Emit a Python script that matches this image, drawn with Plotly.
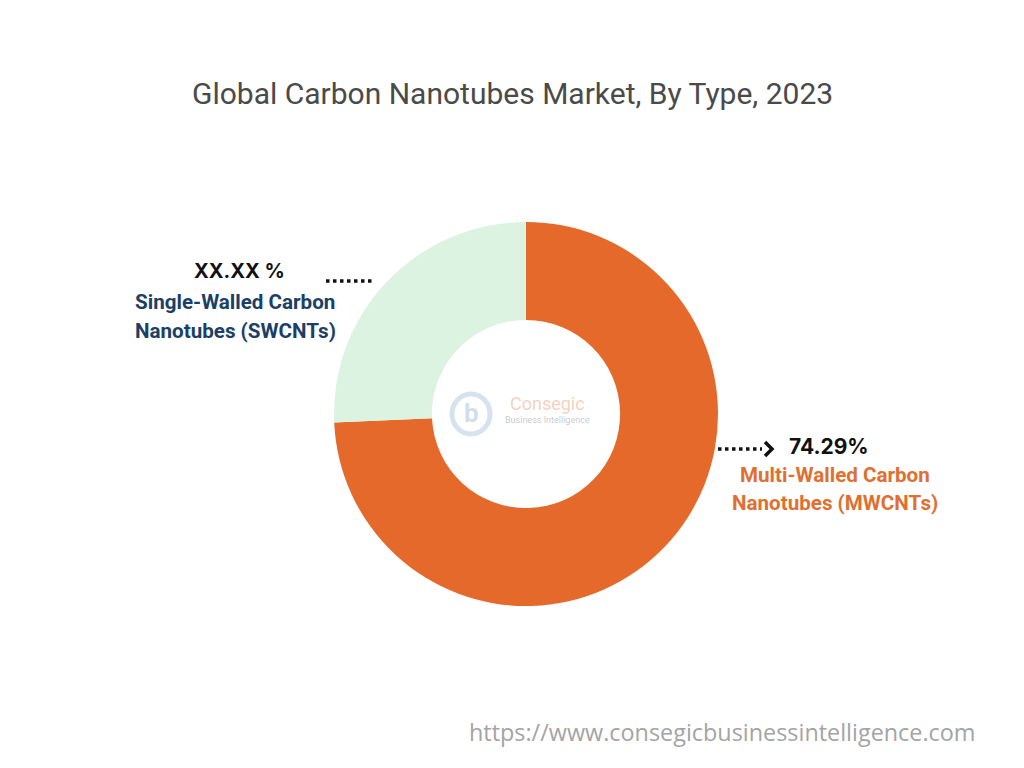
import plotly.graph_objects as go

# Data
categories = ["Multi-Walled Carbon Nanotubes (MWCNTs)", "Single-Walled Carbon Nanotubes (SWCNTs)"]
shares = [74.29, 25.71]
slice_colors = ["#E5692A", "#DDF3E1"]
value_labels = ["74.29%", "XX.XX %"]

W, H = 1024, 768
OFF = 8  # page offset of the figure in the screenshot
cx, cy, R = 526, 414, 192

def px(x):
    return (x - OFF) / W

def py(y):
    return 1 - (y - OFF) / H

fig = go.Figure()
fig.add_trace(go.Pie(
    labels=categories,
    values=shares,
    hole=0.49,
    sort=False,
    direction="clockwise",
    rotation=0,
    marker=dict(colors=slice_colors, line=dict(width=0)),
    textinfo="none",
    hoverinfo="label+percent",
    showlegend=False,
    domain=dict(x=[px(cx - R), px(cx + R)], y=[py(cy + R), py(cy - R)]),
))

annotations = []
shapes = []

def txt(x, y, s, size, color, family="Roboto", anchor="center"):
    annotations.append(dict(
        x=px(x), y=py(y), xref="paper", yref="paper", xanchor=anchor, yanchor="middle",
        text=s, showarrow=False, font=dict(family=family, size=size, color=color)))

# Title
txt(512, 93, "Global Carbon Nanotubes Market, By Type, 2023", 30, "#4A4A4A")

# Left label (SWCNTs)
txt(239, 271, "<b>" + value_labels[1] + "</b>", 20, "#111111", family="Inter")
txt(235, 302, "<b>Single-Walled Carbon</b>", 20.6, "#1B3F66")
txt(235, 331, "<b>Nanotubes (SWCNTs)</b>", 20.6, "#1B3F66")
shapes.append(dict(type="line", xref="paper", yref="paper",
                   x0=px(326), y0=py(281), x1=px(373), y1=py(281),
                   line=dict(color="#111111", width=3.5, dash="dot")))

# Right label (MWCNTs)
txt(829, 446, "<b>" + value_labels[0] + "</b>", 21, "#111111", family="Inter")
txt(835, 475, "<b>Multi-Walled Carbon</b>", 20.6, "#E07030")
txt(835, 503, "<b>Nanotubes (MWCNTs)</b>", 20.6, "#E07030")
shapes.append(dict(type="line", xref="paper", yref="paper",
                   x0=px(718), y0=py(449), x1=px(762), y1=py(449),
                   line=dict(color="#111111", width=3.5, dash="dot")))
shapes.append(dict(type="path", xref="paper", yref="paper",
                   path=f"M {px(765)},{py(442)} L {px(772)},{py(449)} L {px(765)},{py(456)}",
                   line=dict(color="#111111", width=3.5)))

# Faint watermark logo
shapes.append(dict(type="circle", xref="paper", yref="paper",
                   x0=px(452), y0=py(434), x1=px(490), y1=py(394),
                   line=dict(color="rgba(120,160,200,0.30)", width=5)))
txt(471, 413, "<b>b</b>", 26, "rgba(120,160,200,0.35)")
txt(547, 403, "Consegic", 18, "rgba(230,150,110,0.45)")
txt(547, 420, "Business Intelligence", 9, "rgba(140,150,160,0.5)")

# URL footer
txt(722, 732, "https://www.consegicbusinessintelligence.com", 23.4, "#A4A4A4", family="Open Sans")

fig.update_layout(
    width=W, height=H,
    margin=dict(l=0, r=0, t=0, b=0),
    paper_bgcolor="white", plot_bgcolor="white",
    annotations=annotations, shapes=shapes,
)

fig.write_html("out.html")
